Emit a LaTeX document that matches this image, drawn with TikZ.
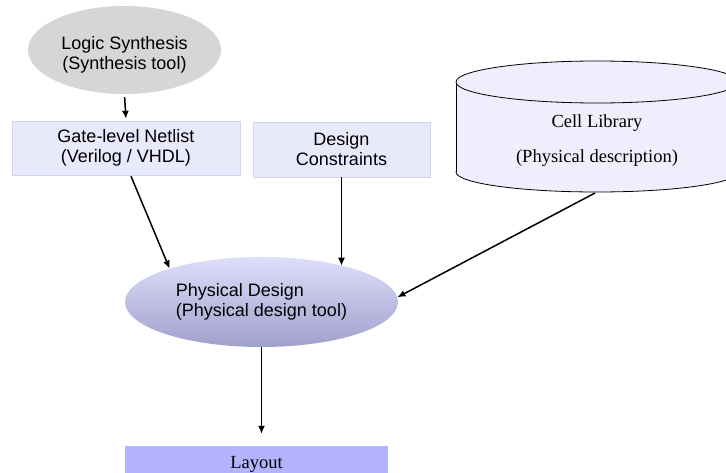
\documentclass[tikz,border=0pt]{standalone}
\usepackage{fontspec}
\setmainfont{Liberation Serif}
\setsansfont{Liberation Sans}
\usetikzlibrary{shapes.geometric,arrows.meta,calc}
\definecolor{lsgray}{RGB}{214,214,214}
\definecolor{boxfill}{RGB}{233,233,252}
\definecolor{boxline}{RGB}{212,212,242}
\definecolor{cylfill}{RGB}{238,238,252}
\definecolor{pdtop}{RGB}{222,222,250}
\definecolor{pdbot}{RGB}{160,160,205}
\definecolor{layfill}{RGB}{179,179,255}
\tikzset{
  sanstext/.style={font=\sffamily\fontsize{18}{20}\selectfont, text=black},
  seriftext/.style={font=\rmfamily\fontsize{18.5}{22}\selectfont, text=black},
  inbox/.style={rectangle, draw=boxline, fill=boxfill, sanstext, align=center, inner sep=0pt},
  arr/.style={-{Latex[length=8pt,width=7pt]}, line width=1.5pt, black},
}
\begin{document}
\begin{tikzpicture}[x=1pt,y=-1pt]
\useasboundingbox (0,0) rectangle (726,473);
% Logic synthesis
\node[ellipse, fill=lsgray, minimum width=193, minimum height=88, inner sep=0pt] (ls) at (124.5,50) {};
\node[sanstext, align=center] (lst) at (124.5,55) {Logic Synthesis\\(Synthesis tool)};
% Netlist and constraints
\node[inbox, minimum width=228, minimum height=54] (nl) at (126,148) {Gate-level Netlist\\(Verilog / VHDL)};
\node[inbox, minimum width=177, minimum height=55] (dc) at (341.5,149.5) {Design\\Constraints};
% Cell library cylinder
\draw[line width=0.8pt, fill=cylfill] (597,172) ellipse [x radius=141, y radius=20];
\fill[cylfill] (456,82) rectangle (738,172);
\draw[line width=0.8pt] (456,82) -- (456,172);
\draw[line width=0.8pt] (738,82) -- (738,172);
\draw[line width=0.8pt, fill=cylfill] (597,82) ellipse [x radius=141, y radius=21];
\node[seriftext, anchor=base] (cl1) at (597,128) {Cell Library};
\node[seriftext, anchor=base] (cl2) at (597,163) {(Physical description)};
\coordinate (clb) at (595,193);
% Physical design
\node[ellipse, top color=pdtop, bottom color=pdbot, minimum width=273, minimum height=90, inner sep=0pt, sanstext, align=left] (pd) at (261.5,302) {Physical Design\\(Physical design tool)};
% Layout
\node[rectangle, fill=layfill, minimum width=263, minimum height=36, inner sep=0pt, seriftext] (lay) at (256.5,464) {Layout};
\coordinate (layin) at ($(lay.north)+(0,-12)$);
% connectors
\draw[arr, shorten <=3pt, shorten >=2pt] (ls.south) -- (nl.north);
\draw[arr] ($(nl.south)+(5,1)$) -- (pd.160);
\draw[arr] (dc.south) -- (dc.south |- pd.24);
\draw[arr] (clb) -- (pd.2);
\draw[arr] (pd.south) -- (pd.south |- layin);
\end{tikzpicture}
\end{document}
